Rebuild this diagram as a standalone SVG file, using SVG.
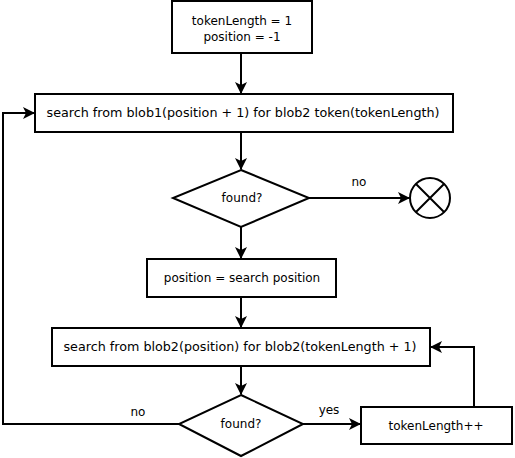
<svg xmlns="http://www.w3.org/2000/svg" width="515" height="458" viewBox="0 0 515 458">
<style>
.n{fill:#fff;stroke:#000;stroke-width:2}
.t{font-family:"DejaVu Sans",sans-serif;font-size:12px;fill:#000;text-anchor:middle}
.c{fill:none;stroke:#000;stroke-width:2}
</style>
<defs>
<marker id="a" viewBox="0 0 12 12" refX="11" refY="6" markerWidth="12" markerHeight="12" markerUnits="userSpaceOnUse" orient="auto">
<path d="M0,0 L12,6 L0,12 L3,6 Z" fill="#000"/>
</marker>
</defs>
<rect width="515" height="458" fill="#fff"/>
<g id="connectors">
<path class="c" d="M241,53 V93" marker-end="url(#a)"/>
<path class="c" d="M241,132 V169" marker-end="url(#a)"/>
<path class="c" d="M309,198 H409" marker-end="url(#a)"/>
<path class="c" d="M241,226 V258" marker-end="url(#a)"/>
<path class="c" d="M241,297 V327" marker-end="url(#a)"/>
<path class="c" d="M241,366 V394" marker-end="url(#a)"/>
<path class="c" d="M179,424 H3 V113 H34" marker-end="url(#a)"/>
<path class="c" d="M303,424 H360" marker-end="url(#a)"/>
<path class="c" d="M474,407 V347 H431" marker-end="url(#a)"/>
<text class="t" x="359" y="186">no</text>
<text class="t" x="138" y="416">no</text>
<text class="t" x="329" y="414">yes</text>
</g>
<g id="init">
<rect class="n" x="172" y="1" width="140" height="52"/>
<text class="t" x="242" y="25">tokenLength = 1</text>
<text class="t" x="242" y="41">position = -1</text>
</g>
<g id="search1">
<rect class="n" x="35" y="94" width="418" height="38"/>
<text class="t" x="243" y="117" textLength="393" lengthAdjust="spacingAndGlyphs">search from blob1(position + 1) for blob2 token(tokenLength)</text>
</g>
<g id="found1">
<polygon class="n" points="241,170 309,198 241,227 173,198"/>
<text class="t" x="242" y="202">found?</text>
</g>
<g id="end">
<circle class="n" cx="430" cy="198" r="20"/>
<path class="c" d="M416,184 L444,212 M444,184 L416,212"/>
</g>
<g id="setpos">
<rect class="n" x="147" y="259" width="189" height="38"/>
<text class="t" x="242" y="282">position = search position</text>
</g>
<g id="search2">
<rect class="n" x="52" y="328" width="378" height="38"/>
<text class="t" x="240" y="351" textLength="353" lengthAdjust="spacingAndGlyphs">search from blob2(position) for blob2(tokenLength + 1)</text>
</g>
<g id="found2">
<polygon class="n" points="241,395 303,424 241,456 179,424"/>
<text class="t" x="241" y="428">found?</text>
</g>
<g id="inc">
<rect class="n" x="361" y="407" width="151" height="37"/>
<text class="t" x="436" y="430">tokenLength++</text>
</g>
</svg>
